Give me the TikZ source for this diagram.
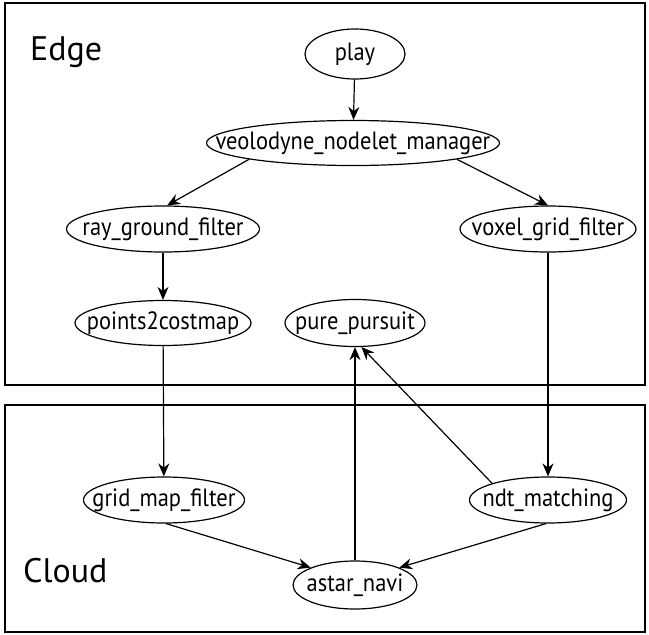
\documentclass[tikz,border=0pt]{standalone}
\usepackage{fontspec}
\setmainfont{PT Sans}
\newfontfamily\narrowsans[FakeStretch=0.9]{PT Sans}
\usetikzlibrary{shapes.geometric,arrows.meta}
\newcommand{\ntext}[1]{\makebox[0pt][c]{#1}}
\begin{document}
\begin{tikzpicture}[x=1pt,y=-1pt,
  nd/.style={draw,ellipse,line width=1.2pt,inner sep=0pt,font=\narrowsans\fontsize{25}{27}\selectfont},
  ar/.style={line width=1.2pt,-{Stealth[length=13pt,width=11pt]}},
  zone/.style={draw,line width=1.2pt},
  lbl/.style={font=\fontsize{34}{40}\selectfont,anchor=base west,inner sep=0pt}]
\useasboundingbox (0,0) rectangle (649,635);
\fill[white] (0,0) rectangle (649,635);
\draw[zone] (5,3) rectangle (645,385);
\draw[zone] (5,405) rectangle (645,632);
\node[lbl] (edgelbl) at (30,60) {Edge};
\node[lbl] (cloudlbl) at (23,582) {Cloud};
\node[nd,minimum width=100,minimum height=50] (play) at (355,54) {\ntext{play}};
\node[nd,minimum width=293,minimum height=45] (veo) at (353,143) {\ntext{veolodyne\_nodelet\_manager}};
\node[nd,minimum width=193,minimum height=46] (ray) at (163,229) {\ntext{ray\_ground\_filter}};
\node[nd,minimum width=176,minimum height=46] (vox) at (548,229) {\ntext{voxel\_grid\_filter}};
\node[nd,minimum width=176,minimum height=45] (p2c) at (163,323) {\ntext{points2costmap}};
\node[nd,minimum width=140,minimum height=47] (pure) at (355,323) {\ntext{pure\_pursuit}};
\node[nd,minimum width=161,minimum height=46] (grid) at (164,500) {\ntext{grid\_map\_filter}};
\node[nd,minimum width=157,minimum height=46] (ndt) at (548,500) {\ntext{ndt\_matching}};
\node[nd,minimum width=124,minimum height=48] (astar) at (355,585) {\ntext{astar\_navi}};
\draw[ar] (play) -- (veo);
\draw[ar] (veo.south west) -- (ray.80);
\draw[ar] (veo.south east) -- (vox.north);
\draw[ar] (ray) -- (p2c);
\draw[ar] (p2c) -- (grid);
\draw[ar] (vox) -- (ndt);
\draw[ar] (grid.-85) -- (astar.north west);
\draw[ar] (ndt.-95) -- (astar.north east);
\draw[ar] (astar) -- (pure);
\draw[ar] (ndt.north west) -- (pure.-75);
\end{tikzpicture}
\end{document}
